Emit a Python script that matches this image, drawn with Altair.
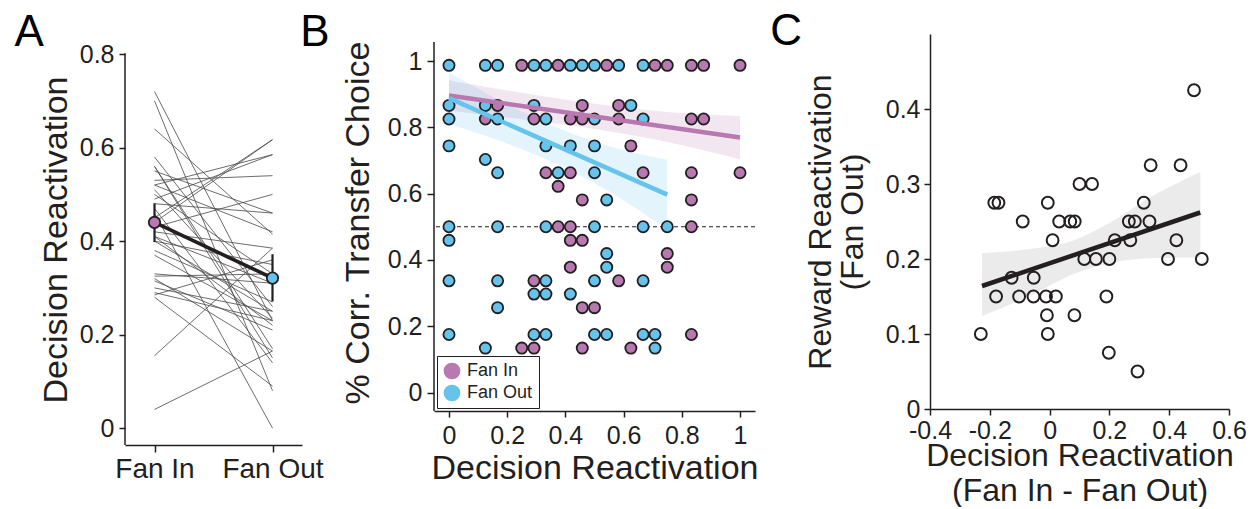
import altair as alt
import pandas as pd

FONT = "Liberation Sans"
INK = "#231f20"
PURPLE = "#B878B0"
BLUE = "#66C4EC"

# ---------------- Panel A data ----------------
conditions = ["Fan In", "Fan Out"]
fan_in_vals = [0.72, 0.70, 0.64, 0.58, 0.56, 0.56, 0.55, 0.53, 0.52, 0.51, 0.50, 0.49,
               0.48, 0.46, 0.45, 0.44, 0.43, 0.42, 0.41, 0.41, 0.40, 0.40, 0.37, 0.33,
               0.325, 0.32, 0.315, 0.30, 0.29, 0.285, 0.28, 0.155, 0.04, 0.52, 0.47, 0.38]
fan_out_vals = [0.23, 0.08, 0.415, 0.26, 0.17, 0.15, 0.46, 0.54, 0.585, 0.235, 0.33, 0.585,
                0.46, 0.00, 0.617, 0.617, 0.50, 0.385, 0.22, 0.31, 0.25, 0.35, 0.23, 0.31,
                0.33, 0.165, 0.21, 0.25, 0.23, 0.36, 0.09, 0.385, 0.165, 0.42, 0.14, 0.27]
mean_vals = [0.44, 0.321]
sem_low = [0.398, 0.271]
sem_high = [0.481, 0.372]
a_axis_span = [-0.036, 0.802]

# ---------------- Panel B data ----------------
groups = ["Fan In", "Fan Out"]
fan_in_x = [0.25, 0.375, 0.542, 0.708, 0.75, 0.833, 0.875, 1.0,
            0.167, 0.458, 0.583,
            0.125, 0.292, 0.417, 0.458, 0.583, 0.833, 0.875,
            0.625,
            0.333, 0.417, 0.667, 0.833, 1.0,
            0.375,
            0.458, 0.833,
            0.375, 0.417, 0.833,
            0.417, 0.458,
            0.75,
            0.417, 0.75,
            0.292, 0.583,
            0.458, 0.5,
            0.833,
            0.25, 0.292, 0.458, 0.625]
fan_in_y = [0.987, 0.987, 0.987, 0.987, 0.987, 0.987, 0.987, 0.987,
            0.866, 0.866, 0.866,
            0.825, 0.825, 0.825, 0.825, 0.825, 0.825, 0.825,
            0.744,
            0.663, 0.663, 0.663, 0.663, 0.663,
            0.622,
            0.581, 0.581,
            0.5, 0.5, 0.5,
            0.459, 0.459,
            0.419,
            0.378, 0.378,
            0.337, 0.337,
            0.256, 0.256,
            0.175,
            0.134, 0.134, 0.134, 0.134]
fan_out_x = [0.0, 0.125, 0.167, 0.292, 0.333, 0.417, 0.458, 0.5, 0.583, 0.667,
             0.0, 0.125, 0.292, 0.625,
             0.0, 0.167, 0.333, 0.5, 0.667,
             0.0, 0.333, 0.417, 0.5,
             0.125,
             0.167, 0.375, 0.5,
             0.542,
             0.0, 0.167, 0.333, 0.5, 0.667, 0.75,
             0.0,
             0.542,
             0.542,
             0.0, 0.167, 0.333, 0.5, 0.667,
             0.292, 0.333, 0.417,
             0.167,
             0.0, 0.292, 0.333, 0.5, 0.542, 0.667, 0.708,
             0.125, 0.708]
fan_out_y = [0.987, 0.987, 0.987, 0.987, 0.987, 0.987, 0.987, 0.987, 0.987, 0.987,
             0.866, 0.866, 0.866, 0.866,
             0.825, 0.825, 0.825, 0.825, 0.825,
             0.744, 0.744, 0.744, 0.744,
             0.703,
             0.663, 0.663, 0.663,
             0.581,
             0.5, 0.5, 0.5, 0.5, 0.5, 0.5,
             0.459,
             0.419,
             0.378,
             0.337, 0.337, 0.337, 0.337, 0.337,
             0.297, 0.297, 0.297,
             0.256,
             0.175, 0.175, 0.175, 0.175, 0.175, 0.175, 0.175,
             0.134, 0.134]
# regression fits and confidence bands
in_fit_x = [0.0, 1.0]
in_fit_y = [0.896, 0.769]
in_band_x = [0.0, 0.25, 0.5, 0.75, 1.0]
in_band_lo = [0.851, 0.824, 0.795, 0.756, 0.704]
in_band_hi = [0.941, 0.904, 0.871, 0.846, 0.834]
out_fit_x = [0.0, 0.75]
out_fit_y = [0.888, 0.597]
out_band_x = [0.0, 0.1875, 0.375, 0.5625, 0.75]
out_band_lo = [0.811, 0.755, 0.688, 0.600, 0.492]
out_band_hi = [0.965, 0.875, 0.798, 0.740, 0.702]
chance_level = [0.5]
b_axis_span = [-0.0558, 1.0573]

# ---------------- Panel C data ----------------
c_x = [0.483, 0.338, 0.438, 0.100, 0.142, -0.185, -0.171, -0.006, 0.315, -0.090,
       0.032, 0.069, 0.084, 0.265, 0.285, 0.334, 0.010, 0.218, 0.270, 0.424,
       0.116, 0.155, 0.200, 0.396, 0.509, -0.127, -0.053, -0.179, -0.102, -0.054,
       -0.012, 0.021, 0.190, -0.009, 0.083, -0.230, -0.006, 0.198, 0.294]
c_y = [0.425, 0.325, 0.325, 0.300, 0.300, 0.275, 0.275, 0.275, 0.275, 0.250,
       0.250, 0.250, 0.250, 0.250, 0.250, 0.250, 0.225, 0.225, 0.225, 0.225,
       0.200, 0.200, 0.200, 0.200, 0.200, 0.175, 0.175, 0.150, 0.150, 0.150,
       0.150, 0.150, 0.150, 0.125, 0.125, 0.100, 0.100, 0.075, 0.050]
c_fit_x = [-0.226, 0.504]
c_fit_y = [0.164, 0.262]
c_band_x = [-0.226, -0.07, 0.075, 0.208, 0.331, 0.504]
c_band_lo = [0.124, 0.150, 0.179, 0.195, 0.201, 0.202]
c_band_hi = [0.208, 0.213, 0.224, 0.250, 0.281, 0.316]

# ---------------- tables ----------------
rows = []
for i, (a, b) in enumerate(zip(fan_in_vals, fan_out_vals)):
    rows.append({"subject": i, "condition": conditions[0], "value": a})
    rows.append({"subject": i, "condition": conditions[1], "value": b})
df_a = pd.DataFrame(rows)
df_mean = pd.DataFrame({"condition": conditions, "value": mean_vals, "lo": sem_low, "hi": sem_high})
df_a_axis = pd.DataFrame({"lo": [a_axis_span[0]], "hi": [a_axis_span[1]]})

df_b = pd.concat([
    pd.DataFrame({"x": fan_in_x, "y": fan_in_y, "group": groups[0]}),
    pd.DataFrame({"x": fan_out_x, "y": fan_out_y, "group": groups[1]}),
], ignore_index=True)
df_in_fit = pd.DataFrame({"x": in_fit_x, "y": in_fit_y})
df_out_fit = pd.DataFrame({"x": out_fit_x, "y": out_fit_y})
df_in_band = pd.DataFrame({"x": in_band_x, "lo": in_band_lo, "hi": in_band_hi})
df_out_band = pd.DataFrame({"x": out_band_x, "lo": out_band_lo, "hi": out_band_hi})
df_chance = pd.DataFrame({"y": chance_level})
df_b_axis = pd.DataFrame({"lo": [b_axis_span[0]], "hi": [b_axis_span[1]]})

df_c = pd.DataFrame({"x": c_x, "y": c_y})
df_c_fit = pd.DataFrame({"x": c_fit_x, "y": c_fit_y})
df_c_band = pd.DataFrame({"x": c_band_x, "lo": c_band_lo, "hi": c_band_hi})

one = pd.DataFrame({"k": [0]})


def letter(txt, px, py):
    return alt.Chart(one).mark_text(
        text=txt, font=FONT, fontSize=44, align="left", baseline="top", color="black"
    ).encode(x=alt.value(px), y=alt.value(py))


# ---------------- Panel A ----------------
xA = alt.X("condition:N",
           scale=alt.Scale(type="point", domain=conditions, padding=0.25),
           axis=alt.Axis(title="", labelAngle=0, labelFontSize=28, tickSize=7,
                         labelPadding=3, labelFlush=False))
axA = alt.Axis(title="Decision Reactivation", titleFontSize=34, titlePadding=6,
               values=[0, 0.2, 0.4, 0.6, 0.8], labelFontSize=25, tickSize=6,
               labelPadding=5, titleLimit=1000, domain=False,
               labelExpr="format(datum.value, '~g')")
scA = alt.Scale(domain=[-0.036, 0.843], nice=False, zero=False)

a_axis_line = alt.Chart(df_a_axis).mark_rule(color=INK, strokeWidth=1.5).encode(
    x=alt.value(0), y=alt.Y("lo:Q", scale=scA, axis=axA), y2="hi:Q")
a_lines = alt.Chart(df_a).mark_line(color="#4a4a4a", strokeWidth=0.9, opacity=0.9).encode(
    x=xA, y=alt.Y("value:Q", scale=scA, axis=axA), detail="subject:N")
a_err = alt.Chart(df_mean).mark_rule(color=INK, strokeWidth=2.2).encode(
    x=xA, y=alt.Y("lo:Q", scale=scA, axis=axA), y2="hi:Q")
a_mean_line = alt.Chart(df_mean).mark_line(color=INK, strokeWidth=3.6).encode(
    x=xA, y=alt.Y("value:Q", scale=scA, axis=axA))
a_mean_pts = alt.Chart(df_mean).mark_circle(size=130, stroke=INK, strokeWidth=1.8, opacity=1).encode(
    x=xA, y=alt.Y("value:Q", scale=scA, axis=axA),
    fill=alt.Fill("condition:N", scale=alt.Scale(domain=conditions, range=[PURPLE, BLUE]), legend=None))

panelA = alt.layer(
    a_axis_line, a_lines, a_err, a_mean_line, a_mean_pts,
    letter("A", -110.6, -23), letter("B", 175.3, -23)
).properties(width=177, height=411)

# ---------------- Panel B ----------------
scBx = alt.Scale(domain=[-0.0515, 1.0515], nice=False, zero=False)
scBy = alt.Scale(domain=[-0.0558, 1.0815], nice=False, zero=False)
axBx = alt.Axis(title="Decision Reactivation", titleFontSize=34, titlePadding=3,
                values=[0, 0.2, 0.4, 0.6, 0.8, 1], labelFontSize=25, tickSize=6,
                labelPadding=6, labelFlush=False, labelOverlap=False, titleLimit=1000,
                labelExpr="format(datum.value, '~g')")
axBy = alt.Axis(title="% Corr. Transfer Choice", titleFontSize=34, titlePadding=12,
                values=[0, 0.2, 0.4, 0.6, 0.8, 1], labelFontSize=25, tickSize=7,
                labelPadding=5, titleLimit=1000, domain=False,
                labelExpr="format(datum.value, '~g')")

b_axis_line = alt.Chart(df_b_axis).mark_rule(color=INK, strokeWidth=1.5).encode(
    x=alt.value(0), y=alt.Y("lo:Q", scale=scBy, axis=axBy), y2="hi:Q")
b_in_band = alt.Chart(df_in_band).mark_area(color=PURPLE, opacity=0.18, interpolate="monotone").encode(
    x=alt.X("x:Q", scale=scBx, axis=axBx), y=alt.Y("lo:Q", scale=scBy, axis=axBy), y2="hi:Q")
b_out_band = alt.Chart(df_out_band).mark_area(color=BLUE, opacity=0.18, interpolate="monotone").encode(
    x=alt.X("x:Q", scale=scBx, axis=axBx), y=alt.Y("lo:Q", scale=scBy, axis=axBy), y2="hi:Q")
b_chance = alt.Chart(df_chance).mark_rule(color=INK, strokeWidth=1, strokeDash=[4, 3]).encode(
    y=alt.Y("y:Q", scale=scBy, axis=axBy))
b_pts = alt.Chart(df_b).mark_circle(size=125, stroke=INK, strokeWidth=1.8, opacity=1).encode(
    x=alt.X("x:Q", scale=scBx, axis=axBx),
    y=alt.Y("y:Q", scale=scBy, axis=axBy),
    fill=alt.Fill("group:N", scale=alt.Scale(domain=groups, range=[PURPLE, BLUE]),
                  legend=alt.Legend(title=None, orient="bottom-left", offset=3,
                                    strokeColor=INK, fillColor="white", padding=6,
                                    rowPadding=4, symbolType="circle", symbolSize=280,
                                    symbolStrokeWidth=0, symbolOpacity=1,
                                    labelFontSize=18, labelFont=FONT, labelColor=INK,
                                    labelOffset=6)))
b_in_fit = alt.Chart(df_in_fit).mark_line(color=PURPLE, strokeWidth=4.5).encode(
    x=alt.X("x:Q", scale=scBx, axis=axBx), y=alt.Y("y:Q", scale=scBy, axis=axBy))
b_out_fit = alt.Chart(df_out_fit).mark_line(color=BLUE, strokeWidth=4.5).encode(
    x=alt.X("x:Q", scale=scBx, axis=axBx), y=alt.Y("y:Q", scale=scBy, axis=axBy))

panelB = alt.layer(
    b_axis_line, b_in_band, b_out_band, b_chance, b_pts, b_in_fit, b_out_fit
).properties(width=321, height=377)

# ---------------- Panel C ----------------
scCx = alt.Scale(domain=[-0.4, 0.6], nice=False, zero=False)
scCy = alt.Scale(domain=[0, 0.5], nice=False, zero=False)
axCx = alt.Axis(title=["Decision Reactivation", "(Fan In - Fan Out)"], titleFontSize=32,
                titleLineHeight=35, titlePadding=-3,
                values=[-0.4, -0.2, 0, 0.2, 0.4, 0.6], labelFontSize=25, tickSize=6,
                labelPadding=3, labelFlush=False, labelOverlap=False, titleLimit=1000,
                labelExpr="replace(format(datum.value, '~g'), '\u2212', '-')")
axCy = alt.Axis(title=["Reward Reactivation", "(Fan Out)"], titleFontSize=32,
                titleLineHeight=32, titlePadding=16,
                values=[0, 0.1, 0.2, 0.3, 0.4], labelFontSize=25, tickSize=6,
                labelPadding=4, titleLimit=1000,
                labelExpr="format(datum.value, '~g')")

c_band = alt.Chart(df_c_band).mark_area(color="#EBEBEB", opacity=1, interpolate="monotone").encode(
    x=alt.X("x:Q", scale=scCx, axis=axCx), y=alt.Y("lo:Q", scale=scCy, axis=axCy), y2="hi:Q")
c_pts = alt.Chart(df_c).mark_point(shape="circle", size=140, filled=False, color=INK,
                                   strokeWidth=2, opacity=1).encode(
    x=alt.X("x:Q", scale=scCx, axis=axCx), y=alt.Y("y:Q", scale=scCy, axis=axCy))
c_fit = alt.Chart(df_c_fit).mark_line(color=INK, strokeWidth=4.5).encode(
    x=alt.X("x:Q", scale=scCx, axis=axCx), y=alt.Y("y:Q", scale=scCy, axis=axCy))

panelC = alt.layer(
    c_band, c_pts, c_fit, letter("C", -159.7, -24)
).properties(width=299, height=375)

inner = alt.hconcat(panelB, panelC, spacing=10).resolve_scale(
    fill="independent").resolve_legend(fill="independent")

chart = alt.hconcat(
    panelA, inner, spacing=9
).resolve_scale(fill="independent").resolve_legend(fill="independent").properties(
    padding={"left": 5, "top": 1, "right": 0, "bottom": 0},
    background="white"
).configure_axis(
    domainColor=INK, domainWidth=1.5, tickColor=INK, tickWidth=1.5,
    labelColor=INK, titleColor=INK, labelFont=FONT, titleFont=FONT,
    titleFontWeight="normal", grid=False
).configure_view(stroke="transparent")

chart.save("out.html", embed_options={"renderer": "svg", "actions": False})
